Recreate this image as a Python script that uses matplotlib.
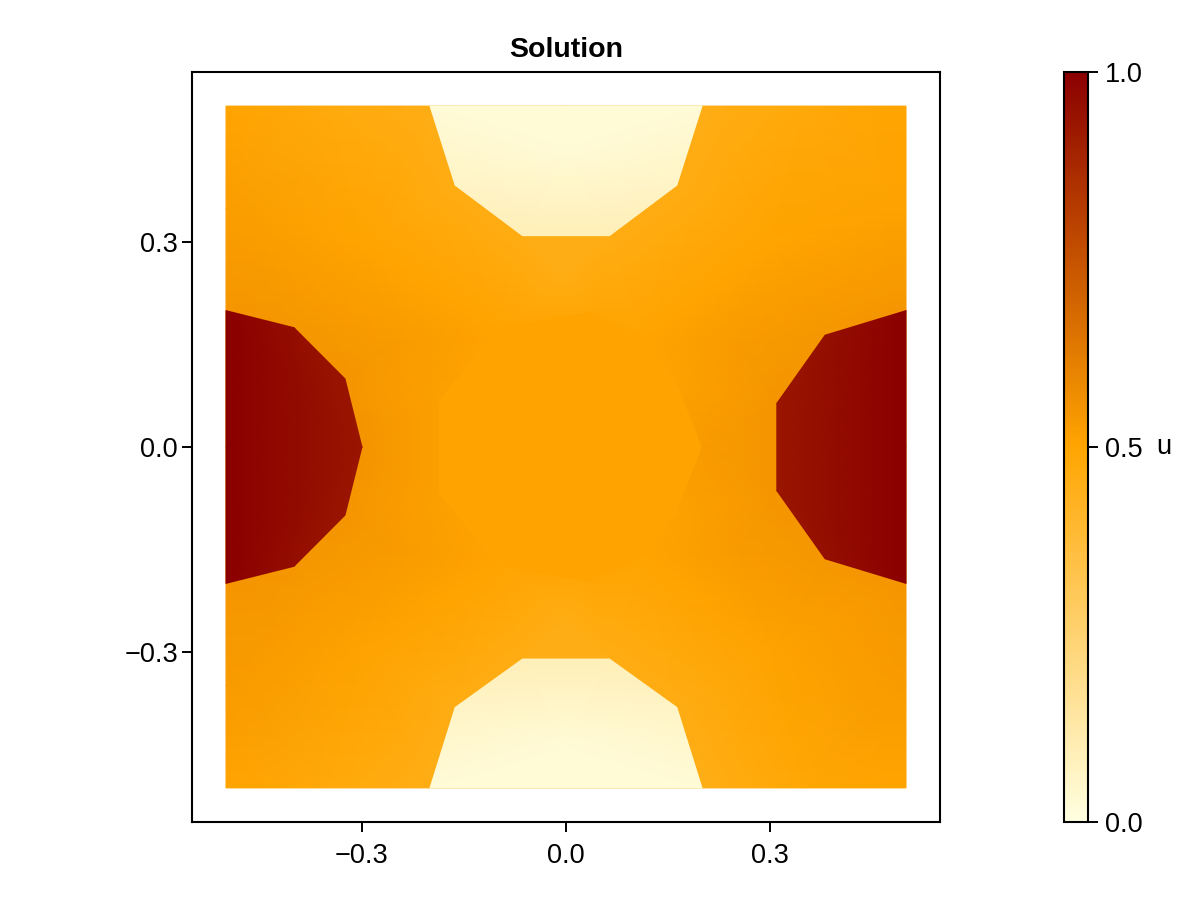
import matplotlib
matplotlib.use("Agg")
import matplotlib.pyplot as plt
import matplotlib.tri as mtri
from matplotlib.colors import LinearSegmentedColormap, Normalize
from matplotlib.cm import ScalarMappable

plt.rcParams['font.family'] = ['Liberation Sans', 'DejaVu Sans']

# ---------------- data ----------------
# background (outer) field nodes: x, y, u
outer_x = [-0.5, 0.5, -0.5, 0.5,
           -0.2, 0.2, 0.0, -0.2, 0.2, 0.0,
           -0.35, 0.35, -0.35, 0.35,
           -0.5, -0.5, -0.5, -0.5, -0.5,
           0.5, 0.5, 0.5, 0.5, 0.5,
           -0.163, -0.064, 0.064, 0.163, -0.163, -0.064, 0.064, 0.163,
           -0.4, -0.325, -0.3, -0.325, -0.4,
           0.381, 0.31, 0.31, 0.381,
           0.033, -0.1, -0.186, -0.186, -0.1, 0.033, 0.114, 0.16, 0.199, 0.16, 0.114,
           -0.3, 0.3, -0.3, 0.3, 0.0, 0.0, -0.25, 0.25, -0.25, 0.25]
outer_y = [0.5, 0.5, -0.5, -0.5,
           0.5, 0.5, 0.5, -0.5, -0.5, -0.5,
           0.5, 0.5, -0.5, -0.5,
           0.35, 0.2, 0.0, -0.2, -0.35,
           0.35, 0.2, 0.0, -0.2, -0.35,
           0.384, 0.31, 0.31, 0.384, -0.384, -0.31, -0.31, -0.384,
           0.175, 0.1, 0.0, -0.1, -0.175,
           0.164, 0.064, -0.064, -0.164,
           0.197, 0.173, 0.068, -0.068, -0.173, -0.197, -0.159, -0.1, 0.0, 0.1, 0.159,
           0.3, 0.3, -0.3, -0.3, 0.25, -0.25, 0.15, 0.15, -0.15, -0.15]
outer_u = [0.50, 0.50, 0.50, 0.50,
           0.45, 0.45, 0.43, 0.45, 0.45, 0.43,
           0.47, 0.48, 0.48, 0.49,
           0.52, 0.545, 0.56, 0.545, 0.53,
           0.51, 0.545, 0.56, 0.545, 0.53,
           0.455, 0.455, 0.455, 0.455, 0.455, 0.455, 0.455, 0.455,
           0.54, 0.545, 0.55, 0.545, 0.54,
           0.54, 0.545, 0.545, 0.54,
           0.485, 0.50, 0.515, 0.515, 0.50, 0.485, 0.50, 0.51, 0.53, 0.51, 0.50,
           0.50, 0.50, 0.505, 0.505, 0.455, 0.455, 0.53, 0.53, 0.53, 0.53]

# left boundary region (u ~ 1)
left_x = [-0.5, -0.4, -0.325, -0.3, -0.325, -0.4, -0.5]
left_y = [0.2, 0.175, 0.1, 0.0, -0.1, -0.175, -0.2]
left_u = [1.0, 0.955, 0.935, 0.93, 0.935, 0.955, 1.0]

# right boundary region (u ~ 1)
right_x = [0.5, 0.381, 0.31, 0.31, 0.381, 0.5]
right_y = [0.2, 0.164, 0.064, -0.064, -0.164, -0.2]
right_u = [1.0, 0.95, 0.93, 0.93, 0.95, 1.0]

# top boundary region (u ~ 0)
top_x = [-0.2, 0.2, 0.163, 0.064, -0.064, -0.163, 0.0]
top_y = [0.5, 0.5, 0.384, 0.31, 0.31, 0.384, 0.44]
top_u = [0.02, 0.02, 0.06, 0.09, 0.09, 0.06, 0.02]

# bottom boundary region (u ~ 0)
bot_x = [-0.2, 0.2, 0.163, 0.064, -0.064, -0.163, 0.0]
bot_y = [-0.5, -0.5, -0.382, -0.311, -0.311, -0.382, -0.44]
bot_u = [0.02, 0.02, 0.06, 0.09, 0.09, 0.06, 0.02]

# central region (u ~ 0.5)
ctr_x = [0.033, -0.1, -0.186, -0.186, -0.1, 0.033, 0.114, 0.16, 0.199, 0.16, 0.114]
ctr_y = [0.197, 0.173, 0.068, -0.068, -0.173, -0.197, -0.159, -0.1, 0.0, 0.1, 0.159]
ctr_u = [0.505] * 11

xticks = [-0.3, 0.0, 0.3]
xtick_labels = ["\u22120.3", "0.0", "0.3"]
yticks = [-0.3, 0.0, 0.3]
ytick_labels = ["\u22120.3", "0.0", "0.3"]
cbar_ticks = [0.0, 0.5, 1.0]
cbar_tick_labels = ["0.0", "0.5", "1.0"]

# ---------------- plot ----------------
cmap = LinearSegmentedColormap.from_list("heat", ["#FFFFE0", "#FFA500", "#8B0000"])
norm = Normalize(0, 1)

fig = plt.figure(figsize=(12, 9), dpi=100)
ax = fig.add_axes([192 / 1200, 78 / 900, 748 / 1200, 750 / 900])
ax.set_axisbelow(True)
ax.grid(True, color="#E6E6E6", linewidth=1.3, zorder=0)

for xs, ys, us, z in [(outer_x, outer_y, outer_u, 1),
                      (left_x, left_y, left_u, 2),
                      (right_x, right_y, right_u, 2),
                      (top_x, top_y, top_u, 2),
                      (bot_x, bot_y, bot_u, 2),
                      (ctr_x, ctr_y, ctr_u, 2)]:
    t = mtri.Triangulation(xs, ys)
    ax.tripcolor(t, us, shading="gouraud", cmap=cmap, norm=norm, zorder=z,
                 antialiased=False)

ax.set_xlim(-0.55, 0.55)
ax.set_ylim(-0.55, 0.55)
ax.set_xticks(xticks)
ax.set_xticklabels(xtick_labels)
ax.set_yticks(yticks)
ax.set_yticklabels(ytick_labels)
ax.tick_params(direction="out", length=7, width=1.4, labelsize=19.5,
               colors="black")
ax.tick_params(axis="x", pad=8)
ax.tick_params(axis="y", pad=3)
for s in ax.spines.values():
    s.set_linewidth(1.5)
    s.set_color("black")
ax.set_title("Solution", fontsize=20.5, fontweight="bold", pad=11)

cax = fig.add_axes([1064 / 1200, 78 / 900, 24 / 1200, 750 / 900])
sm = ScalarMappable(norm=norm, cmap=cmap)
cb = fig.colorbar(sm, cax=cax)
cb.set_ticks(cbar_ticks)
cb.set_ticklabels(cbar_tick_labels)
cb.outline.set_linewidth(1.5)
cb.outline.set_edgecolor("black")
cax.tick_params(direction="out", length=7, width=1.4, labelsize=19.5, pad=5)
cax.text(3.85, 0.5, "u", transform=cax.transAxes, fontsize=19.5, va="center", ha="left")

fig.savefig("out.png", dpi=100)
